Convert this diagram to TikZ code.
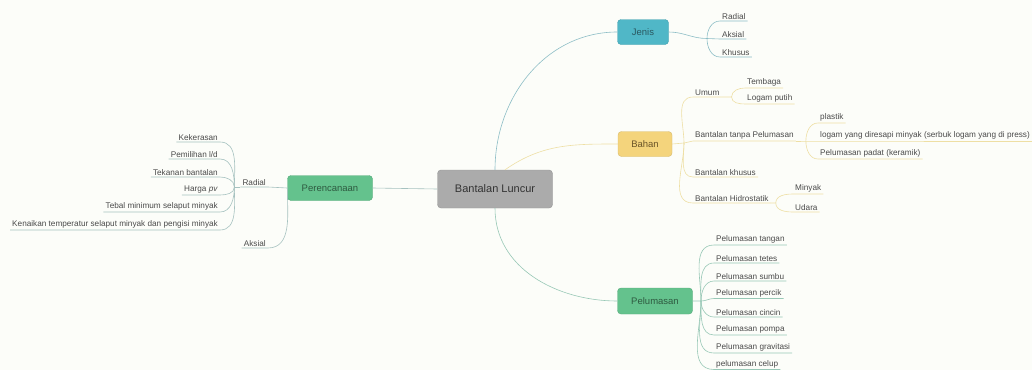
\documentclass[tikz,border=0pt]{standalone}
\usepackage{fontspec}
\setmainfont{Liberation Sans}
\usetikzlibrary{calc}

\definecolor{bgcol}{HTML}{FCFDF9}
\definecolor{grayfill}{HTML}{ABABAB}
\definecolor{greenfill}{HTML}{64C28D}
\definecolor{tealfill}{HTML}{50B7C7}
\definecolor{yellowfill}{HTML}{F4D47C}
\definecolor{tealline}{HTML}{8DBEC6}
\definecolor{yellowline}{HTML}{EEDFA4}
\definecolor{greenline}{HTML}{98C8B6}
\definecolor{grayline}{HTML}{A6C2C0}
\definecolor{leaftext}{HTML}{4A4A4A}
\definecolor{greentext}{HTML}{2E5A40}
\definecolor{tealtext}{HTML}{2A5860}
\definecolor{yellowtext}{HTML}{6A5428}
\definecolor{graytext}{HTML}{333333}

\begin{document}
\begin{tikzpicture}[x=1pt, y=-1pt,
    topic/.style={rounded corners=3.5pt, draw=#1!88!black, fill=#1, line width=.4pt},
    leaf/.style={font=\fontsize{8.2}{9}\selectfont, text=leaftext, inner xsep=2pt, inner ysep=1.6pt, anchor=south west},
    leafl/.style={leaf, anchor=south east},
    branch/.style={line width=.6pt, #1}]

    \fill[bgcol] (0,0) rectangle (1032,370);
    \useasboundingbox (0,0) rectangle (1032,370);

    \node[topic=grayfill, minimum width=115, minimum height=38, text=graytext, font=\fontsize{11}{13}\selectfont] (luncur) at (495,189) {Bantalan Luncur};
    \node[topic=greenfill, minimum width=85, minimum height=25, text=greentext, font=\fontsize{9.5}{11}\selectfont] (perencanaan) at (330,188) {Perencanaan};
    \node[topic=tealfill, minimum width=51, minimum height=25, text=tealtext, font=\fontsize{9.5}{11}\selectfont] (jenis) at (643,32) {Jenis};
    \node[topic=yellowfill, minimum width=54, minimum height=25, text=yellowtext, font=\fontsize{9.5}{11}\selectfont] (bahan) at (645,144) {Bahan};
    \node[topic=greenfill, minimum width=75, minimum height=26, text=greentext, font=\fontsize{9.5}{11}\selectfont] (pelumasan) at (655,301) {Pelumasan};

    \draw[branch=tealline] (luncur.north) to[out=90, in=180] (jenis.west);
    \draw[branch=yellowline] ([xshift=10pt]luncur.north) to[out=35, in=180] (bahan.west);
    \draw[branch=greenline] (luncur.south) to[out=-90, in=180] (pelumasan.west);
    \draw[branch=grayline] (luncur.west) -- (perencanaan.east);

    \node[leaf] (jradial) at (720,21) {Radial};
    \node[leaf] (jaksial) at (720,39) {Aksial};
    \node[leaf] (jkhusus) at (720,57) {Khusus};
    \coordinate (jfork) at (707,38.5);
    \draw[branch=tealline] (jenis.east) to[out=0, in=180] (jfork) -- (jaksial.south west) -- (jaksial.south east);
    \draw[branch=tealline] (jfork) to[out=90, in=180] (jradial.south west) -- (jradial.south east);
    \draw[branch=tealline] (jfork) to[out=-90, in=180] (jkhusus.south west) -- (jkhusus.south east);

    \node[leaf] (umum) at (693,97) {Umum};
    \node[leaf] (tanpa) at (693,141) {Bantalan tanpa Pelumasan};
    \node[leaf] (khusus) at (693,177) {Bantalan khusus};
    \node[leaf] (hidro) at (693,203) {Bantalan Hidrostatik};
    \coordinate (bfork) at (684,143);
    \draw[branch=yellowline] (bahan.east) -- (bfork) to[out=0, in=180] (tanpa.south west) -- (tanpa.south east);
    \draw[branch=yellowline] (bfork) to[out=90, in=180] (umum.south west) -- (umum.south east);
    \draw[branch=yellowline] (bfork) to[out=-90, in=180] (khusus.south west) -- (khusus.south east);
    \draw[branch=yellowline] (bfork) to[out=-90, in=180] (hidro.south west) -- (hidro.south east);

    \node[leaf] (tembaga) at (745,88) {Tembaga};
    \node[leaf] (logamputih) at (745,104) {Logam putih};
    \coordinate (ufork) at ($(umum.south east)+(10,0)$);
    \draw[branch=yellowline] (umum.south east) -- (ufork) to[out=90, in=180] (tembaga.south west) -- (tembaga.south east);
    \draw[branch=yellowline] (ufork) to[out=-90, in=180] (logamputih.south west) -- (logamputih.south east);

    \node[leaf] (plastik) at (818,123) {plastik};
    \node[leaf] (logam) at (818,141) {logam yang diresapi minyak (serbuk logam yang di press)};
    \node[leaf] (padat) at (818,159) {Pelumasan padat (keramik)};
    \coordinate (tfork) at ($(tanpa.south east)+(10,0)$);
    \draw[branch=yellowline] (tanpa.south east) -- (tfork) -- (logam.south west) -- (logam.south east);
    \draw[branch=yellowline] (tfork) to[out=90, in=180] (plastik.south west) -- (plastik.south east);
    \draw[branch=yellowline] (tfork) to[out=-90, in=180] (padat.south west) -- (padat.south east);

    \node[leaf] (minyak) at (793,194) {Minyak};
    \node[leaf] (udara) at (793,212) {Udara};
    \coordinate (hfork) at ($(hidro.south east)+(5,0)$);
    \draw[branch=yellowline] (hidro.south east) -- (hfork) to[out=90, in=180] (minyak.south west) -- (minyak.south east);
    \draw[branch=yellowline] (hfork) to[out=-90, in=180] (udara.south west) -- (udara.south east);

    \node[leaf] (ptangan) at (714,245) {Pelumasan tangan};
    \node[leaf] (ptetes) at (714,263) {Pelumasan tetes};
    \node[leaf] (psumbu) at (714,281) {Pelumasan sumbu};
    \node[leaf] (ppercik) at (714,298.5) {Pelumasan percik};
    \node[leaf] (pcincin) at (714,317) {Pelumasan cincin};
    \node[leaf] (ppompa) at (714,335) {Pelumasan pompa};
    \node[leaf] (pgravitasi) at (714,353) {Pelumasan gravitasi};
    \node[leaf] (pcelup) at (714,369.5) {pelumasan celup};
    \coordinate (lfork) at (701,301);
    \draw[branch=greenline] (pelumasan.east) -- (lfork) to[out=0, in=180] (ppercik.south west) -- (ppercik.south east);
    \foreach \n in {ptangan,ptetes,psumbu}
        \draw[branch=greenline] (lfork) to[out=90, in=180] (\n.south west) -- (\n.south east);
    \foreach \n in {pcincin,ppompa,pgravitasi,pcelup}
        \draw[branch=greenline] (lfork) to[out=-90, in=180] (\n.south west) -- (\n.south east);

    \node[leafl] (radial) at (268,187) {Radial};
    \node[leafl] (aksial) at (268,248) {Aksial};
    \draw[branch=grayline] (perencanaan.west) -- (radial.south east) -- (radial.south west);
    \draw[branch=grayline] (perencanaan.west) to[out=-90, in=0] (aksial.south east) -- (aksial.south west);

    \node[leafl] (kekerasan) at (220,142) {Kekerasan};
    \node[leafl] (pemilihan) at (220,159) {Pemilihan l/d};
    \node[leafl] (tekanan) at (220,177) {Tekanan bantalan};
    \node[leafl] (harga) at (220,195) {Harga \textit{pv}};
    \node[leafl] (tebal) at (220,212) {Tebal minimum selaput minyak};
    \node[leafl] (kenaikan) at (220,230) {Kenaikan temperatur selaput minyak dan pengisi minyak};
    \coordinate (rfork) at ($(radial.south west)+(-6,0)$);
    \draw[branch=grayline] (radial.south west) -- (rfork);
    \foreach \n in {kekerasan,pemilihan,tekanan}
        \draw[branch=grayline] (rfork) to[out=90, in=0] (\n.south east) -- (\n.south west);
    \foreach \n in {harga,tebal,kenaikan}
        \draw[branch=grayline] (rfork) to[out=-90, in=0] (\n.south east) -- (\n.south west);

\end{tikzpicture}
\end{document}
